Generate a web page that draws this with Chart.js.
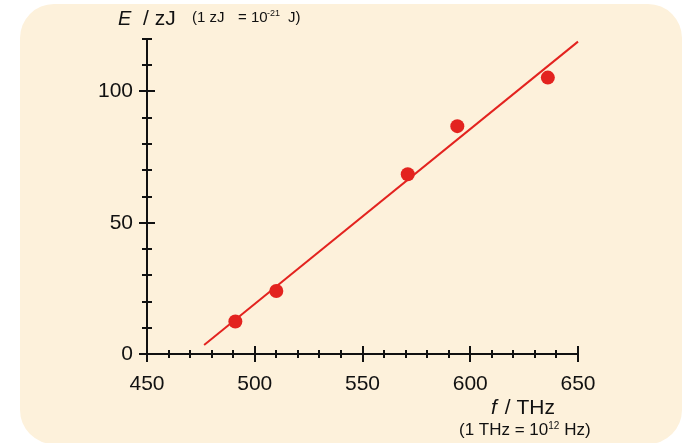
<!DOCTYPE html>
<html>
<head>
<meta charset="utf-8">
<script src="https://cdn.jsdelivr.net/npm/chart.js@4"></script>
<style>
  body { margin: 0; background: #ffffff; }
  #wrap { position: relative; width: 696px; height: 443px; }
  #panel {
    position: absolute; left: 20px; top: 4px; width: 662px; height: 440px;
    background: #fdf1db; border-radius: 34px;
  }
  #myChart { position: absolute; left: 0; top: 0; }
</style>
</head>
<body>
<div id="wrap">
  <div id="panel"></div>
  <canvas id="myChart" width="696" height="443"></canvas>
</div>
<script>
// measured points
const freqs = [491, 510, 571, 594, 636];
const energies = [12.4, 24.0, 68.5, 86.8, 105.3];

// best-fit line end points
const fitFreqs = [476.5, 650];
const fitEnergies = [3.4, 119.0];

// axis ticks
const xTickLabels = [450, 500, 550, 600, 650];
const yTickLabels = [0, 50, 100];

const red = "#e3231f";
const ink = "#111111";
const fontFamily = "'Liberation Sans', Arial, sans-serif";

// crossing tick marks drawn with the scales
const crossTicks = {
    id: "crossTicks",
    afterDraw(chart) {
        const ctx = chart.ctx;
        const xs = chart.scales.x;
        const ys = chart.scales.y;
        const x0 = xs.getPixelForValue(450);
        const y0 = ys.getPixelForValue(0);
        ctx.save();
        ctx.strokeStyle = ink;
        ctx.lineWidth = 2;
        ctx.beginPath();
        for (let v = 450; v <= 650; v += 10) {
            const len = xTickLabels.includes(v) ? 8 : 4;
            const px = Math.round(xs.getPixelForValue(v));
            ctx.moveTo(px, y0 - len);
            ctx.lineTo(px, y0 + len);
        }
        for (let v = 0; v <= 120; v += 10) {
            const len = yTickLabels.includes(v) ? 8 : 5;
            const py = Math.round(ys.getPixelForValue(v));
            ctx.moveTo(x0 - len, py);
            ctx.lineTo(x0 + len, py);
        }
        ctx.stroke();
        ctx.restore();
    }
};

// draw text pieces, each at its own x if given, else right after the last one
function drawRuns(ctx, x, y, runs) {
    runs.forEach(r => {
        if (r.at !== undefined) x = r.at;
        ctx.font = (r.italic ? "italic " : "") + r.size + "px " + fontFamily;
        ctx.fillText(r.text, x, y + (r.dy || 0));
        x += ctx.measureText(r.text).width;
    });
}

const axisTitles = {
    id: "axisTitles",
    afterDraw(chart) {
        const ctx = chart.ctx;
        ctx.save();
        ctx.fillStyle = ink;
        ctx.textBaseline = "alphabetic";
        drawRuns(ctx, 118, 25, [
            { text: "E", italic: true, size: 20 },
            { text: "/ zJ", size: 21, at: 143 }
        ]);
        drawRuns(ctx, 192, 22, [
            { text: "(1 zJ", size: 15 },
            { text: "= 10", size: 15, at: 238 },
            { text: "-21", size: 9, dy: -6, at: 267 },
            { text: "J)", size: 15, at: 288 }
        ]);
        drawRuns(ctx, 491, 414, [
            { text: "f", italic: true, size: 21 },
            { text: " / THz", size: 21, at: 499 }
        ]);
        drawRuns(ctx, 459, 435, [
            { text: "(1 THz = 10", size: 17 },
            { text: "12", size: 10, dy: -6 },
            { text: " Hz)", size: 17 }
        ]);
        ctx.restore();
    }
};

const ctx = document.getElementById("myChart").getContext("2d");
new Chart(ctx, {
    type: "scatter",
    data: {
        datasets: [
            {
                type: "line",
                data: fitFreqs.map((f, i) => ({ x: f, y: fitEnergies[i] })),
                borderColor: red,
                borderWidth: 2,
                pointRadius: 0,
                fill: false,
                clip: false
            },
            {
                data: freqs.map((f, i) => ({ x: f, y: energies[i] })),
                backgroundColor: red,
                borderColor: red,
                pointRadius: 7,
                pointBorderWidth: 0
            }
        ]
    },
    options: {
        responsive: false,
        animation: false,
        layout: { padding: { left: 0, top: 39, right: 118, bottom: 0 } },
        plugins: { legend: { display: false }, tooltip: { enabled: false } },
        scales: {
            x: {
                type: "linear",
                min: 450,
                max: 650,
                afterFit(scale) { scale.height = 89; },
                afterBuildTicks(scale) { scale.ticks = xTickLabels.map(v => ({ value: v })); },
                grid: { display: true, drawOnChartArea: false, drawTicks: false },
                border: { display: true, color: ink, width: 2 },
                ticks: {
                    color: ink,
                    padding: 18,
                    maxRotation: 0,
                    autoSkip: false,
                    font: { family: fontFamily, size: 21 }
                }
            },
            y: {
                type: "linear",
                min: 0,
                max: 120,
                afterFit(scale) { scale.width = 147; },
                afterBuildTicks(scale) { scale.ticks = yTickLabels.map(v => ({ value: v })); },
                grid: { display: true, drawOnChartArea: false, drawTicks: false },
                border: { display: true, color: ink, width: 2 },
                ticks: {
                    color: ink,
                    padding: 14,
                    autoSkip: false,
                    font: { family: fontFamily, size: 21 }
                }
            }
        }
    },
    plugins: [crossTicks, axisTitles]
});
</script>
</body>
</html>
